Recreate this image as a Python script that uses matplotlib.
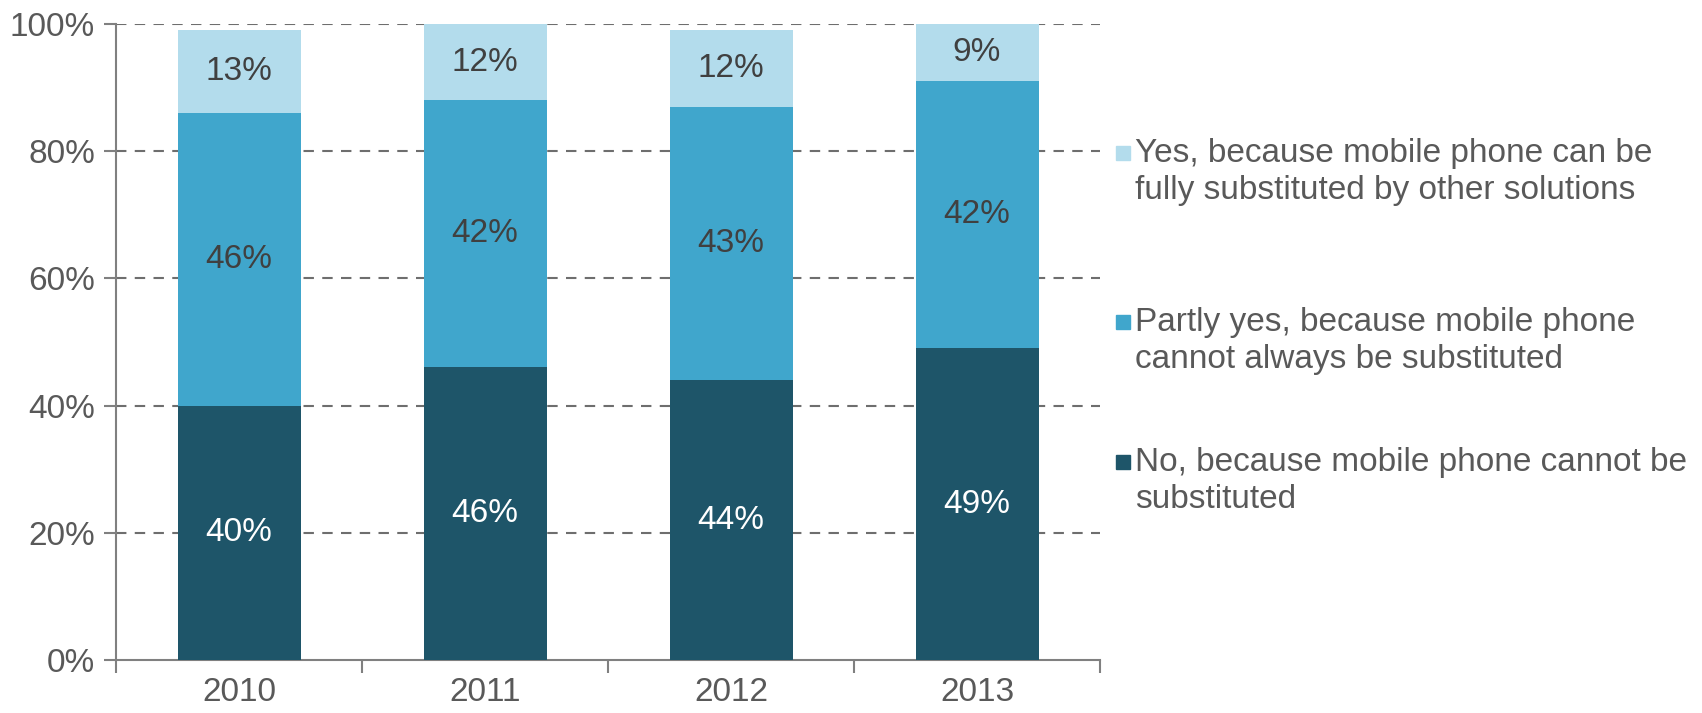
import numpy as np
import matplotlib.pyplot as plt
from matplotlib.patches import Rectangle

plt.rcParams['font.family'] = ['Liberation Sans', 'DejaVu Sans']

years = ['2010', '2011', '2012', '2013']
no_sub = [40, 46, 44, 49]
partly = [46, 42, 43, 42]
fully = [13, 12, 12, 9]

labels = ['No, because mobile phone cannot be\nsubstituted',
          'Partly yes, because mobile phone\ncannot always be substituted',
          'Yes, because mobile phone can be\nfully substituted by other solutions']
colors = ['#1e5569', '#40a6cc', '#b3dcec']
text_colors = ['white', '#404040', '#404040']

fig = plt.figure(figsize=(17.02, 7.13), dpi=100)
ax = fig.add_axes([116 / 1702, 1 - 660 / 713, (1100 - 116) / 1702, (660 - 24) / 713])

x = np.arange(len(years))
bottom = np.zeros(len(years))
for vals, c, tc in zip([no_sub, partly, fully], colors, text_colors):
    vals = np.array(vals, dtype=float)
    ax.bar(x, vals, 0.5, bottom=bottom, color=c, zorder=3)
    for xi, b, v in zip(x, bottom, vals):
        ax.text(xi, b + v / 2, f'{v:.0f}%', ha='center', va='center',
                color=tc, fontsize=24, zorder=4)
    bottom += vals

ax.set_xlim(-0.5, len(years) - 0.5)
ax.set_ylim(0, 100)
ax.set_yticks(np.arange(0, 101, 20))
ax.set_yticklabels([f'{v}%' for v in range(0, 101, 20)])
ax.set_xticks(x)
ax.set_xticklabels(years)
ax.set_xticks(np.arange(-0.5, len(years), 1), minor=True)
ax.tick_params(axis='x', which='major', length=0, pad=12, labelsize=24, labelcolor='#595959')
ax.tick_params(axis='x', which='minor', length=9, width=1.5, color='#808080', direction='out')
ax.tick_params(axis='y', length=9, width=1.5, color='#808080', labelsize=24,
               labelcolor='#595959', pad=6)

for v in range(20, 101, 20):
    ax.axhline(v, color='#6e6e6e', lw=1.5, ls=(0, (5, 4)), zorder=1)

for s in ['top', 'right']:
    ax.spines[s].set_visible(False)
for s in ['left', 'bottom']:
    ax.spines[s].set_color('#808080')
    ax.spines[s].set_linewidth(1.5)

# legend drawn by hand, top entry first
legend_y = [172, 341, 481]
for lab, c, yc in zip(labels[::-1], colors[::-1], legend_y):
    line1 = yc - 19
    fig.patches.append(Rectangle((1116 / 1702, 1 - (line1 + 7) / 713), 14 / 1702, 14 / 713,
                                 transform=fig.transFigure, color=c))
    fig.text(1135 / 1702, 1 - yc / 713, lab, ha='left', va='center', fontsize=24,
             color='#595959', linespacing=1.27)

fig.savefig('out.png', dpi=100)
